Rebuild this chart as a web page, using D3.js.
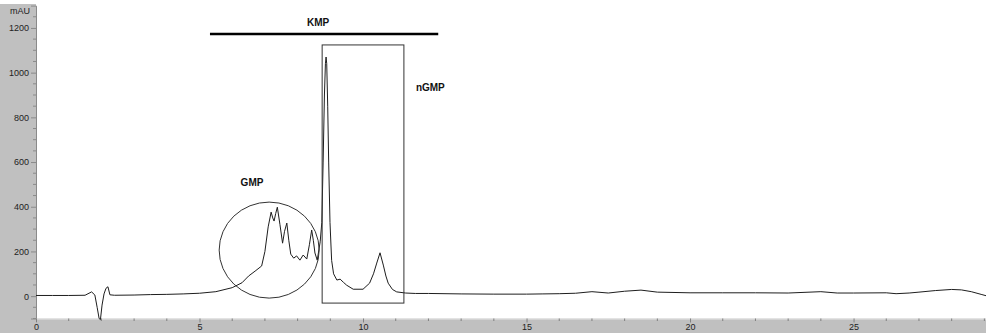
<!DOCTYPE html>
<html>
<head>
<meta charset="utf-8">
<script src="https://cdn.jsdelivr.net/npm/d3@7"></script>
<style>
  html, body { margin: 0; padding: 0; background: #fff; }
  svg { display: block; }
  text { font-family: "Liberation Sans", Arial, sans-serif; }
</style>
</head>
<body>
<svg id="chart" width="986" height="333"></svg>
<script>
// ---- data ----
const timeMin = [0, 0.5, 1.0, 1.5, 1.7, 1.8, 1.87, 1.93, 1.97, 2.02, 2.08, 2.14, 2.2, 2.26, 2.4, 3.0, 3.5, 4.0, 4.5, 5.0,
  5.5, 6.0, 6.3, 6.5, 6.7, 6.9, 7.0, 7.1, 7.19, 7.24, 7.28, 7.33, 7.38, 7.46, 7.54, 7.6, 7.67, 7.73, 7.79, 7.88,
  7.97, 8.07, 8.17, 8.28, 8.36, 8.43, 8.48, 8.53, 8.6, 8.69, 8.74, 8.78, 8.82, 8.85, 8.87, 8.89, 8.92, 8.95, 8.99, 9.04,
  9.1, 9.2, 9.3, 9.4, 9.5, 9.7, 10.0, 10.2, 10.32, 10.42, 10.52, 10.62, 10.7, 10.77, 10.9, 11.03, 11.3, 11.6, 12, 13,
  14, 15, 15.5, 16, 16.5, 17, 17.5, 18, 18.5, 19, 20, 21, 22, 23, 24, 24.5, 25, 26, 26.3, 26.7,
  27, 27.5, 28, 28.3, 28.6, 28.9, 29.05];
const absorbance = [3, 3, 3, 4, 19, 5, -50, -100, -105, -40, 10, 35, 42, 6, 4, 5, 7, 8, 10, 13,
  20, 38, 60, 90, 112, 135, 200, 310, 376, 350, 336, 370, 398, 320, 237, 290, 327, 250, 188, 170,
  180, 161, 184, 166, 230, 296, 250, 193, 161, 243, 330, 600, 900, 1040, 1070, 1040, 850, 600, 330, 160,
  100, 72, 76, 62, 49, 31, 31, 58, 100, 148, 194, 139, 90, 58, 30, 19, 14, 12, 12, 10,
  9, 9, 10, 11, 13, 20, 14, 22, 27, 18, 15, 15, 15, 14, 20, 14, 14, 15, 11, 14,
  18, 25, 30, 28, 20, 8, 2];
const xTicks = [0, 5, 10, 15, 20, 25];
const yTicks = [0, 200, 400, 600, 800, 1000, 1200];
const yUnit = "mAU";
const labels = { kmp: "KMP", gmp: "GMP", ngmp: "nGMP" };
// annotation anchors in data units
const kmpBar = [5.32, 12.3, 1173];
const nGmpBox = [8.75, 11.25, -31, 1124];
const gmpEllipse = [7.13, 206];

// ---- layout ----
const W = 986, H = 333;
const plotLeft = 36, plotBottom = 318.5, plotTop = 5.6;
const svg = d3.select("#chart");

const x = d3.scaleLinear().domain([0, 29.05]).range([plotLeft, W]);
const y = d3.scaleLinear().domain([-100, 1300]).range([plotBottom, plotTop]);

// background panels
svg.append("rect").attr("x", 0).attr("y", 0).attr("width", W).attr("height", H).attr("fill", "#c0c0c0");
svg.append("rect").attr("x", 0).attr("y", 0).attr("width", W).attr("height", 4).attr("fill", "#fff");
svg.append("rect").attr("x", plotLeft).attr("y", 0).attr("width", W - plotLeft).attr("height", plotBottom).attr("fill", "#fff");

// y axis
const yAxis = d3.axisLeft(y).tickValues(yTicks).tickSize(5).tickPadding(2).tickFormat(d3.format("d"));
const gy = svg.append("g").attr("transform", `translate(${plotLeft},0)`).call(yAxis);
gy.select(".domain").attr("stroke", "#8a8a8a");
gy.selectAll(".tick line").attr("stroke", "#8a8a8a");
gy.selectAll(".tick text").attr("font-size", 9).attr("fill", "#222")
  .attr("font-family", "Liberation Sans, Arial, sans-serif");
const yMinor = d3.range(-100, 1300, 50).filter(v => v % 200 !== 0);
svg.append("g").selectAll("line").data(yMinor).join("line")
  .attr("x1", plotLeft - 3).attr("x2", plotLeft).attr("y1", d => y(d)).attr("y2", d => y(d))
  .attr("stroke", "#8a8a8a");
svg.append("text").attr("x", 10).attr("y", 14).attr("font-size", 9).attr("fill", "#222").text(yUnit);

// x axis
const xAxis = d3.axisBottom(x).tickValues(xTicks).tickSize(4).tickPadding(1).tickFormat(d3.format("d"));
const gx = svg.append("g").attr("transform", `translate(0,${plotBottom})`).call(xAxis);
gx.select(".domain").attr("stroke", "#e6e6e6");
gx.selectAll(".tick line").attr("stroke", "#808080");
gx.selectAll(".tick text").attr("font-size", 9).attr("fill", "#222")
  .attr("font-family", "Liberation Sans, Arial, sans-serif");
const xMinor = d3.range(1, 30, 1).filter(v => v % 5 !== 0);
svg.append("g").selectAll("line").data(xMinor).join("line")
  .attr("x1", d => x(d)).attr("x2", d => x(d)).attr("y1", plotBottom).attr("y2", plotBottom + 2.5)
  .attr("stroke", "#808080");

// chromatogram trace
const pts = timeMin.map((t, i) => [t, absorbance[i]]);
const line = d3.line().x(d => x(d[0])).y(d => y(d[1]));
svg.append("path").datum(pts).attr("d", line)
  .attr("fill", "none").attr("stroke", "#1e1e1e").attr("stroke-width", 1);

// annotations
svg.append("line")
  .attr("x1", x(kmpBar[0])).attr("x2", x(kmpBar[1]))
  .attr("y1", y(kmpBar[2])).attr("y2", y(kmpBar[2]))
  .attr("stroke", "#000").attr("stroke-width", 2.5);
svg.append("text").attr("x", (x(kmpBar[0]) + x(kmpBar[1])) / 2 - 6).attr("y", 26)
  .attr("text-anchor", "middle").attr("font-size", 10).attr("font-weight", "bold").attr("fill", "#111")
  .text(labels.kmp);

svg.append("rect")
  .attr("x", x(nGmpBox[0])).attr("y", y(nGmpBox[3]))
  .attr("width", x(nGmpBox[1]) - x(nGmpBox[0]))
  .attr("height", y(nGmpBox[2]) - y(nGmpBox[3]))
  .attr("fill", "none").attr("stroke", "#333").attr("stroke-width", 1);
svg.append("text").attr("x", x(nGmpBox[1]) + 12).attr("y", 91)
  .attr("font-size", 10).attr("font-weight", "bold").attr("fill", "#111").text(labels.ngmp);

svg.append("ellipse")
  .attr("cx", x(gmpEllipse[0])).attr("cy", y(gmpEllipse[1]))
  .attr("rx", 50).attr("ry", 48)
  .attr("fill", "none").attr("stroke", "#333").attr("stroke-width", 1);
svg.append("text").attr("x", 252).attr("y", 186)
  .attr("text-anchor", "middle").attr("font-size", 10).attr("font-weight", "bold").attr("fill", "#111")
  .text(labels.gmp);
</script>
</body>
</html>
